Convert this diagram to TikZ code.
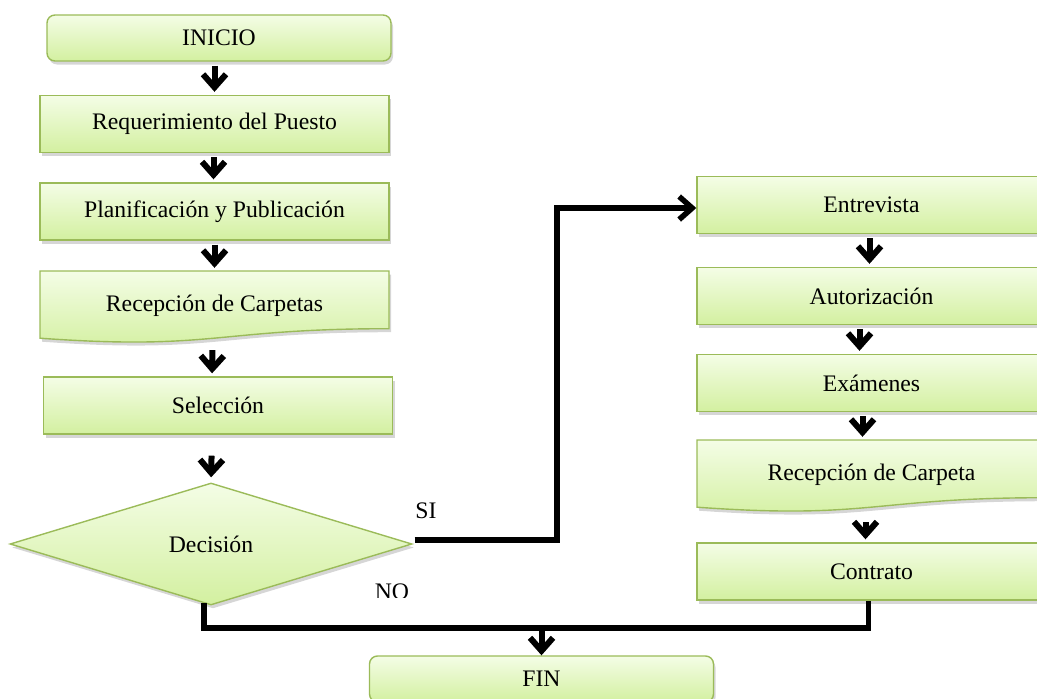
\documentclass[tikz,border=0pt]{standalone}
\usepackage{fontspec}
\setmainfont{Liberation Serif}
\usetikzlibrary{shapes.geometric,shadows,arrows.meta,calc}
\definecolor{boxline}{HTML}{9BBB59}
\definecolor{boxtop}{HTML}{F4FDE6}
\definecolor{boxbot}{HTML}{D3F0A0}

\begin{document}
\begin{tikzpicture}[x=1pt,y=-1pt,
  font=\fontsize{23.7}{28}\selectfont,
  shade/.style={draw=boxline, line width=1.4pt, top color=boxtop, bottom color=boxbot,
    drop shadow={shadow xshift=2pt, shadow yshift=-3.5pt, opacity=0.32}},
  stepbox/.style={shade, rectangle, minimum width=349pt, minimum height=57pt, inner sep=0pt},
  terminal/.style={shade, rectangle, rounded corners=8pt, minimum width=344pt, minimum height=46pt, inner sep=0pt},
  docnode/.style={rectangle, minimum width=349pt, minimum height=72pt, inner sep=0pt},
  decisionbox/.style={shade, diamond, minimum width=402pt, minimum height=122pt, inner sep=0pt},
  lineshadow/.style={preaction={draw=black!18, transform canvas={shift={(1.5pt,-2.5pt)}}}},
  tip/.style={-{Straight Barb[length=13pt,width=23pt]}},
  arr/.style={line width=6pt, lineshadow, tip, shorten <=4pt, shorten >=3pt},
  link/.style={line width=5.5pt, lineshadow},
  linkarr/.style={line width=5.5pt, lineshadow, tip}
]
\useasboundingbox (0,0) rectangle (1037,699);

% document shape: straight top, wavy bottom
\newcommand{\docpath}[2]{%
  \path[shade] (#1,#2) -- ++(349,0) -- ++(0,57.7)
    .. controls ++(-174.5,0) and ($(#1,#2)+(174.5,79.7)$) .. ($(#1,#2)+(0,67.2)$) -- cycle;}

% left column
\node[terminal] (ini) at (219,38) {INICIO};
\node[stepbox] (req) at (214.5,124) {Requerimiento del Puesto};
\node[stepbox] (pla) at (214.5,211.5) {Planificación y Publicación};
\docpath{40}{271}
\node[docnode] (rc) at (214.5,307) {\raisebox{7pt}{Recepción de Carpetas}};
\node[stepbox] (sel) at (218,405.5) {Selección};
\node[decisionbox] (dec) at (211,544) {Decisión};

% right column
\node[stepbox] (ent) at (871.5,205) {Entrevista};
\node[stepbox] (aut) at (871.5,296) {Autorización};
\node[stepbox] (exa) at (871.5,383) {Exámenes};
\docpath{697}{440}
\node[docnode] (rc2) at (871.5,476) {\raisebox{7pt}{Recepción de Carpeta}};
\node[stepbox] (con) at (871.5,571.5) {Contrato};

% end
\node[terminal] (fin) at (541.5,679) {FIN};

% flow arrows, left column
\draw[arr] (ini.south -| req.north) -- (req.north);
\draw[arr] ($(req.south)+(-1,0)$) -- ($(pla.north)+(-1,0)$);
\draw[arr] (pla.south) -- (rc.north);
\draw[arr, shorten <=7pt] ($(rc.south)+(-2,0)$) -- ($(sel.north)+(-6,0)$);
\draw[arr, shorten <=21pt, shorten >=5pt] ($(sel.south)+(-6,0)$) -- (dec.north);

% flow arrows, right column
\draw[arr] ($(ent.south)+(-2,0)$) -- ($(aut.north)+(-2,0)$);
\draw[arr] ($(aut.south)+(-12,0)$) -- ($(exa.north)+(-12,0)$);
\draw[arr] ($(exa.south)+(-9,0)$) -- ($(rc2.north)+(-9,0)$);
\draw[arr, shorten <=10pt] ($(rc2.south)+(-6,0)$) -- ($(con.north)+(-6,0)$);

% SI branch
\draw[linkarr] ($(dec.east)+(2,-4)$) -- (557,540) |- ($(ent.west)+(0,3)$);
\node[anchor=base] (si) at (426,518) {SI};

% NO branch
\coordinate (j) at (541.5,628);
\draw[link] ($(dec.south)+(-7,-3)$) |- (j) -| ($(con.south)+(-3,0)$);
\draw[arr, shorten <=2pt, shorten >=0pt] (j) -- (fin.north);
\begin{scope}
  \clip (353,565) rectangle (413,597);
  \node[anchor=base] (no) at (392,599) {NO};
\end{scope}
\end{tikzpicture}
\end{document}
